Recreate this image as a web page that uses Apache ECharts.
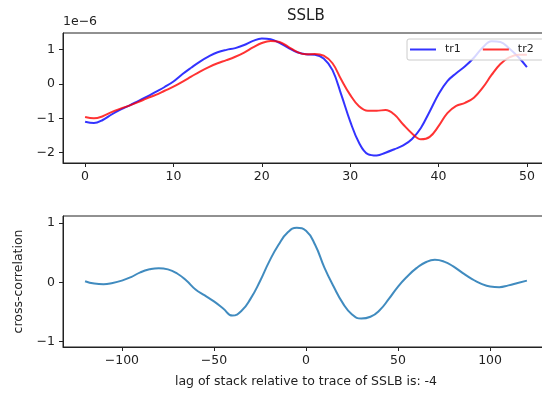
<!DOCTYPE html>
<html>
<head>
<meta charset="utf-8">
<script src="https://cdn.jsdelivr.net/npm/echarts@6/dist/echarts.min.js"></script>
<style>
  html, body { margin: 0; padding: 0; background: #fff; }
  #main { width: 542px; height: 393px; }
</style>
</head>
<body>
<div id="main"></div>
<script>
// top panel: sample index and the two traces (units of 1e-6)
var samples = [0, 1, 2, 3, 4, 5, 6, 7, 8, 9, 10, 11, 12, 13, 14, 15, 16, 17, 18, 19, 20,
  21, 22, 23, 24, 25, 26, 27, 28, 29, 30, 31, 32, 33, 34, 35, 36, 37, 38, 39, 40,
  41, 42, 43, 44, 45, 46, 47, 48, 49, 50];
var tr1 = [-1.10, -1.14, -1.05, -0.89, -0.75, -0.63, -0.50, -0.37, -0.23, -0.09, 0.07,
  0.28, 0.47, 0.65, 0.80, 0.92, 0.99, 1.04, 1.13, 1.25, 1.32,
  1.30, 1.19, 1.05, 0.92, 0.86, 0.85, 0.74, 0.40, -0.32, -1.09,
  -1.71, -2.04, -2.08, -2.00, -1.90, -1.79, -1.60, -1.28, -0.80, -0.30,
  0.08, 0.31, 0.51, 0.76, 1.06, 1.24, 1.22, 1.03, 0.79, 0.49];
var tr2 = [-0.96, -1.00, -0.94, -0.82, -0.72, -0.63, -0.53, -0.42, -0.32, -0.20, -0.08,
  0.06, 0.21, 0.36, 0.49, 0.60, 0.69, 0.79, 0.91, 1.06, 1.19,
  1.25, 1.22, 1.08, 0.93, 0.86, 0.87, 0.82, 0.60, 0.12, -0.32,
  -0.65, -0.78, -0.78, -0.76, -0.89, -1.18, -1.44, -1.61, -1.54, -1.23,
  -0.85, -0.64, -0.55, -0.40, -0.11, 0.26, 0.58, 0.77, 0.85, 0.85];

// bottom panel: lag and cross-correlation
var lags = [-120, -115, -110, -105, -100, -95, -90, -85, -80, -75, -70, -65, -60, -55,
  -50, -45, -40, -35, -30, -25, -20, -15, -10, -5, 0, 5, 10, 15, 20, 25, 30, 35, 40,
  45, 50, 55, 60, 65, 70, 75, 80, 85, 90, 95, 100, 105, 110, 115, 120];
var xcorr = [0.02, -0.02, -0.03, -0.01, 0.03, 0.09, 0.17, 0.22, 0.24, 0.22, 0.15, 0.03, -0.12, -0.22,
  -0.32, -0.44, -0.56, -0.48, -0.27, 0.02, 0.35, 0.63, 0.84, 0.92, 0.87, 0.63, 0.25, -0.07, -0.35, -0.54, -0.61, -0.58, -0.47,
  -0.28, -0.07, 0.10, 0.24, 0.34, 0.38, 0.35, 0.27, 0.16, 0.06, -0.02, -0.07, -0.08, -0.05, -0.01, 0.03];

var topTicksX = [0, 10, 20, 30, 40, 50];
var topTicksY = [-2, -1, 0, 1];
var botTicksX = [-100, -50, 0, 50, 100];
var botTicksY = [-1, 0, 1];

var FONT = 'DejaVu Sans';
var INK = '#222';

function pairs(xs, ys) {
  return xs.map(function (x, i) { return [x, ys[i]]; });
}
function fmt(v) {
  return String(v).replace('-', '\u2212');
}
function axis(grid, min, max, ticks, margin, extra) {
  var a = {
    type: 'value', gridIndex: grid, min: min, max: max,
    splitLine: {show: false},
    axisLine: {show: true, onZero: false, lineStyle: {color: INK, width: 1}},
    axisTick: {show: true, inside: false, length: 4, lineStyle: {color: INK, width: 1}, customValues: ticks},
    axisLabel: {color: INK, fontFamily: FONT, fontSize: 12.5, margin: margin, customValues: ticks, formatter: fmt}
  };
  return Object.assign(a, extra || {});
}

var myChart = echarts.init(document.getElementById('main'));
var option = {
  animation: false,
  backgroundColor: '#fff',
  title: [
    {text: 'SSLB', left: 287, top: 9, padding: 0, textStyle: {fontFamily: FONT, fontSize: 15, fontWeight: 'normal', color: INK}},
    {text: '1e\u22126', left: 63, top: 15, padding: 0, textStyle: {fontFamily: FONT, fontSize: 12.5, fontWeight: 'normal', color: INK}}
  ],
  legend: {
    data: ['tr1', 'tr2'],
    orient: 'horizontal',
    left: 407, top: 39, width: 200,
    padding: [5, 10, 5, 3],
    icon: 'rect', itemWidth: 26, itemHeight: 2, itemGap: 22,
    backgroundColor: 'rgba(255,255,255,0.8)',
    borderColor: '#ccc', borderWidth: 1, borderRadius: 2,
    textStyle: {fontFamily: FONT, fontSize: 11, color: INK, padding: [0, 0, 0, 4]}
  },
  grid: [
    {left: 63, top: 33, width: 486, height: 130, outerBoundsMode: 'none', containLabel: false,
      show: true, borderColor: INK, borderWidth: 1, backgroundColor: '#fff'},
    {left: 63, top: 216, width: 486, height: 131, outerBoundsMode: 'none', containLabel: false,
      show: true, borderColor: INK, borderWidth: 1, backgroundColor: '#fff'}
  ],
  xAxis: [
    axis(0, -2.5, 52.5, topTicksX, 7),
    axis(1, -132, 132, botTicksX, 7, {
      name: 'lag of stack relative to trace of SSLB is: -4',
      nameLocation: 'middle', nameGap: 28,
      nameTextStyle: {fontFamily: FONT, fontSize: 12.5, color: INK}
    })
  ],
  yAxis: [
    axis(0, -2.3, 1.48, topTicksY, 8),
    axis(1, -1.09, 1.12, botTicksY, 8, {
      name: 'cross-correlation',
      nameLocation: 'middle', nameGap: 38,
      nameTextStyle: {fontFamily: FONT, fontSize: 12.5, color: INK}
    })
  ],
  series: [
    {
      name: 'tr1', type: 'line', xAxisIndex: 0, yAxisIndex: 0,
      data: pairs(samples, tr1), smooth: 0.4, showSymbol: false,
      lineStyle: {color: 'rgba(0,0,255,0.8)', width: 2},
      itemStyle: {color: 'rgba(0,0,255,0.8)'}
    },
    {
      name: 'tr2', type: 'line', xAxisIndex: 0, yAxisIndex: 0,
      data: pairs(samples, tr2), smooth: 0.4, showSymbol: false,
      lineStyle: {color: 'rgba(255,0,0,0.8)', width: 2},
      itemStyle: {color: 'rgba(255,0,0,0.8)'}
    },
    {
      name: 'xcorr', type: 'line', xAxisIndex: 1, yAxisIndex: 1,
      data: pairs(lags, xcorr), smooth: 0.5, showSymbol: false,
      lineStyle: {color: 'rgba(31,119,180,0.85)', width: 2},
      itemStyle: {color: '#1f77b4'}
    }
  ]
};
myChart.setOption(option);
</script>
</body>
</html>
